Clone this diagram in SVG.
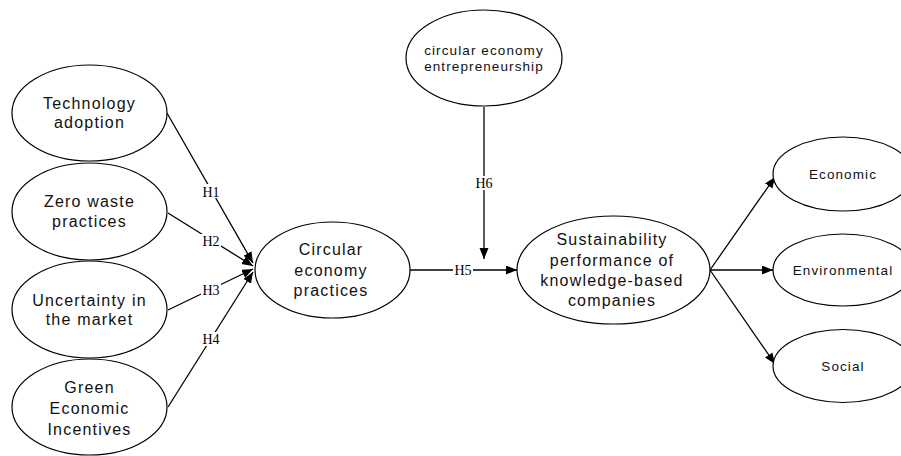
<svg xmlns="http://www.w3.org/2000/svg" width="901" height="456" viewBox="0 0 901 456">
<style>
.n ellipse{fill:#fff;stroke:#000;stroke-width:1.2}
.t{font-family:"Liberation Sans",Arial,sans-serif;font-size:16px;letter-spacing:1.2px;text-anchor:middle;fill:#111}
.s{font-family:"Liberation Sans",Arial,sans-serif;font-size:13.5px;letter-spacing:1.1px;text-anchor:middle;fill:#111}
.c line{stroke:#000;stroke-width:1.3}
.lbl{font-family:"Liberation Serif","Times New Roman",serif;font-size:14px;text-anchor:middle;fill:#000}
.bg{fill:#fff}
</style>
<defs>
<marker id="ah" markerUnits="userSpaceOnUse" markerWidth="12" markerHeight="10" refX="11" refY="4.5" orient="auto">
<path d="M0,0 L11,4.5 L0,9 z" fill="#000"/>
</marker>
</defs>
<rect width="901" height="456" fill="#fff"/>
<g id="connectors" class="c">
<line x1="167" y1="113" x2="253" y2="263" marker-end="url(#ah)"/>
<line x1="168" y1="213" x2="253" y2="266" marker-end="url(#ah)"/>
<line x1="168" y1="310" x2="253" y2="269" marker-end="url(#ah)"/>
<line x1="168" y1="407" x2="253" y2="272" marker-end="url(#ah)"/>
<line x1="410" y1="270" x2="517" y2="270" marker-end="url(#ah)"/>
<line x1="484" y1="107" x2="484" y2="259" marker-end="url(#ah)"/>
<line x1="710" y1="270" x2="775" y2="177" marker-end="url(#ah)"/>
<line x1="710" y1="270" x2="773" y2="270" marker-end="url(#ah)"/>
<line x1="710" y1="270" x2="775" y2="364" marker-end="url(#ah)"/>
<rect class="bg" x="201" y="184" width="20" height="14"/>
<text class="lbl" x="211" y="197">H1</text>
<rect class="bg" x="201" y="234" width="20" height="14"/>
<text class="lbl" x="211" y="246">H2</text>
<rect class="bg" x="201" y="283" width="20" height="14"/>
<text class="lbl" x="211" y="295">H3</text>
<rect class="bg" x="201" y="332" width="20" height="14"/>
<text class="lbl" x="211" y="344">H4</text>
<rect class="bg" x="453" y="263" width="20" height="14"/>
<text class="lbl" x="463" y="275">H5</text>
<rect class="bg" x="474" y="176" width="20" height="14"/>
<text class="lbl" x="484" y="188">H6</text>
</g>
<g id="tech" class="n">
<ellipse cx="89.5" cy="113" rx="77.5" ry="48"/>
<text class="t" x="89.5" y="109">Technology</text>
<text class="t" x="89.5" y="128">adoption</text>
</g>
<g id="zero" class="n">
<ellipse cx="89.5" cy="211.5" rx="77.5" ry="48.5"/>
<text class="t" x="89.5" y="207">Zero waste</text>
<text class="t" x="89.5" y="227">practices</text>
</g>
<g id="uncert" class="n">
<ellipse cx="89.5" cy="309.5" rx="77.5" ry="48.5"/>
<text class="t" x="89.5" y="306">Uncertainty in</text>
<text class="t" x="89.5" y="325">the market</text>
</g>
<g id="green" class="n">
<ellipse cx="89.5" cy="407" rx="77.5" ry="48"/>
<text class="t" x="89.5" y="393">Green</text>
<text class="t" x="89.5" y="414">Economic</text>
<text class="t" x="89.5" y="435">Incentives</text>
</g>
<g id="cep" class="n">
<ellipse cx="332.5" cy="270" rx="77.5" ry="48"/>
<text class="t" x="331" y="255">Circular</text>
<text class="t" x="331" y="276">economy</text>
<text class="t" x="331" y="296">practices</text>
</g>
<g id="cee" class="n">
<ellipse cx="484" cy="58" rx="78" ry="48"/>
<text class="s" x="484" y="55">circular economy</text>
<text class="s" x="484" y="71">entrepreneurship</text>
</g>
<g id="sp" class="n">
<ellipse cx="613.5" cy="270" rx="96.5" ry="54"/>
<text class="t" x="612" y="245">Sustainability</text>
<text class="t" x="612" y="266">performance of</text>
<text class="t" x="612" y="286">knowledge-based</text>
<text class="t" x="612" y="306">companies</text>
</g>
<g id="econ" class="n">
<ellipse cx="843" cy="174" rx="70" ry="37"/>
<text class="s" x="843" y="179">Economic</text>
</g>
<g id="env" class="n">
<ellipse cx="843" cy="270" rx="70" ry="36"/>
<text class="s" x="843" y="275">Environmental</text>
</g>
<g id="soc" class="n">
<ellipse cx="843" cy="366" rx="70" ry="36.5"/>
<text class="s" x="843" y="371">Social</text>
</g>
</svg>
